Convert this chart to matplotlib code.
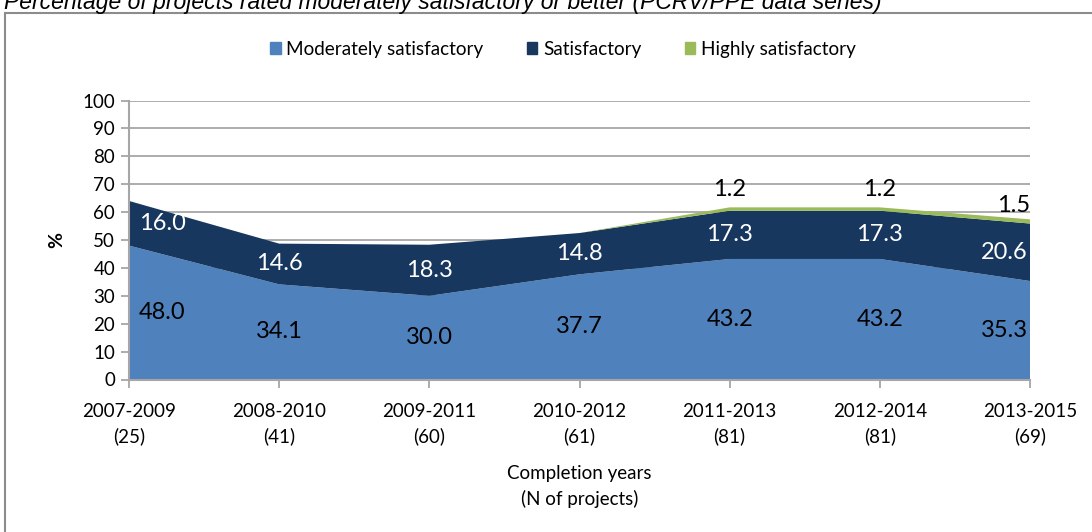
import matplotlib
matplotlib.use("Agg")
import matplotlib.pyplot as plt
from matplotlib.patches import Rectangle
import numpy as np

categories = ["2007-2009", "2008-2010", "2009-2011", "2010-2012", "2011-2013", "2012-2014", "2013-2015"]
n_projects = [25, 41, 60, 61, 81, 81, 69]
moderately = [48.0, 34.1, 30.0, 37.7, 43.2, 43.2, 35.3]
satisfactory = [16.0, 14.6, 18.3, 14.8, 17.3, 17.3, 20.6]
highly = [0.0, 0.0, 0.0, 0.0, 1.2, 1.2, 1.5]
series_names = ["Moderately satisfactory", "Satisfactory", "Highly satisfactory"]
colors = ["#4F81BD", "#17375E", "#9BBB59"]

plt.rcParams['font.family'] = ['Lato', 'DejaVu Sans']

W, H = 1092, 532
fig = plt.figure(figsize=(W / 100, H / 100), dpi=100)

def fx(px):
    return px / W
def fy(py):
    return 1 - py / H

# outer frame
fig.patches.append(Rectangle((fx(5), fy(545)), fx(1100) - fx(5), fy(13) - fy(545),
                             transform=fig.transFigure, fill=False, edgecolor="#8C8C8C", lw=1.5))

fig.text(fx(4), fy(9), "Percentage of projects rated moderately satisfactory or better (PCRV/PPE data series)",
         family="Liberation Sans", style="italic", fontsize=16.5, ha="left", va="baseline", color="#000000")

ax = fig.add_axes([fx(129), fy(379.5), fx(1030) - fx(129), fy(100.5) - fy(379.5)])
x = np.arange(len(categories))
ax.stackplot(x, moderately, satisfactory, highly, colors=colors, lw=0, zorder=2)
ax.set_xlim(0, len(categories) - 1)
ax.set_ylim(0, 100)
ax.set_yticks(range(0, 101, 10))
ax.yaxis.grid(True, color="#A6A6A6", lw=1.3, zorder=0)
ax.set_axisbelow(True)
for s in ["top", "right"]:
    ax.spines[s].set_visible(False)
for s in ["left", "bottom"]:
    ax.spines[s].set_color("#A6A6A6")
    ax.spines[s].set_linewidth(1.5)
    ax.spines[s].set_zorder(5)
ax.set_xticks(x)
ax.set_xticklabels([f"{c}\n({n})" for c, n in zip(categories, n_projects)], fontsize=13.5, linespacing=1.5)
ax.tick_params(axis="x", length=6, width=1.3, color="#A6A6A6", pad=11)
ax.tick_params(axis="y", length=6, width=1.3, color="#A6A6A6", labelsize=13.5, pad=4)
ax.set_xlabel("Completion years\n(N of projects)", fontsize=13.5, linespacing=1.5, labelpad=14)
ax.set_ylabel("%", fontsize=14, fontweight="bold", labelpad=12)

# data labels
def lx(i):
    if i == 0:
        return 0.22
    if i == len(categories) - 1:
        return i - 0.17
    return i

for i in x:
    m, s, h = moderately[i], satisfactory[i], highly[i]
    ax.text(lx(i), m / 2, f"{m:.1f}", ha="center", va="center", fontsize=17, color="black", zorder=6)
    ax.text(lx(i), m + s / 2, f"{s:.1f}", ha="center", va="center", fontsize=17, color="white", zorder=6)
    if h > 0:
        ax.text(lx(i) + (0.06 if i == len(categories) - 1 else 0), m + s + h + (5.0 if i == len(categories) - 1 else 6.5),
                f"{h:.1f}", ha="center", va="center", fontsize=17, color="black", zorder=6)

handles = [Rectangle((0, 0), 1, 1, color=c) for c in colors]
fig.legend(handles, series_names, loc="center", bbox_to_anchor=(fx(563), fy(49)), ncol=3, frameon=False,
           fontsize=13.6, handlelength=0.55, handleheight=0.55, handletextpad=0.3, columnspacing=2.3)

fig.savefig("out.png", dpi=100)
